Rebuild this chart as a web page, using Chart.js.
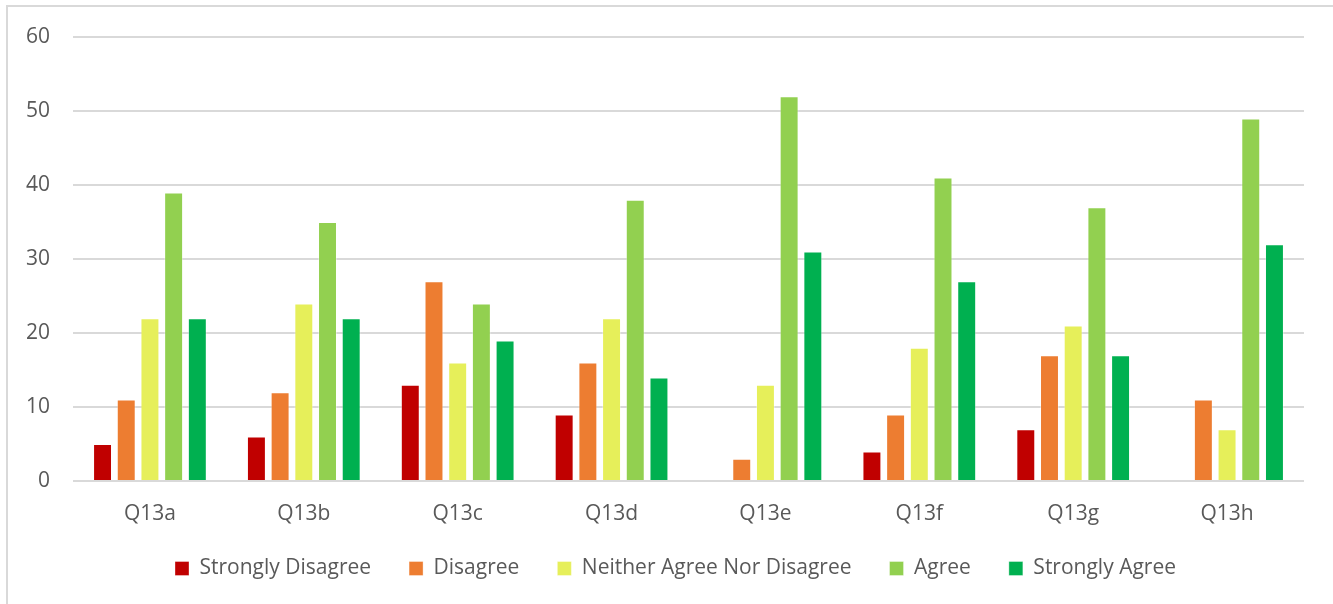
<!DOCTYPE html>
<html>
<head>
<meta charset="utf-8">
<script src="https://cdn.jsdelivr.net/npm/chart.js@4.4.0/dist/chart.umd.min.js"></script>
<style>
  html, body { margin: 0; padding: 0; background: #ffffff; }
  body { width: 1333px; height: 604px; position: relative; overflow: hidden; }
  .frame { position: absolute; left: 6px; top: 5px; width: 1400px; height: 700px;
           border-left: 2px solid #d9d9d9; border-top: 2px solid #d9d9d9; }
  #wrap { position: absolute; left: 0; top: 0; width: 1333px; height: 604px; }
</style>
</head>
<body>
<div class="frame"></div>
<div id="wrap"><canvas id="chart" width="1333" height="604"></canvas></div>
<script>
// Survey responses per question
const questions = ['Q13a', 'Q13b', 'Q13c', 'Q13d', 'Q13e', 'Q13f', 'Q13g', 'Q13h'];
const stronglyDisagree = [5, 6, 13, 9, 0, 4, 7, 0];
const disagree         = [11, 12, 27, 16, 3, 9, 17, 11];
const neither          = [22, 24, 16, 22, 13, 18, 21, 7];
const agree            = [39, 35, 24, 38, 52, 41, 37, 49];
const stronglyAgree    = [22, 22, 19, 14, 31, 27, 17, 32];
const yTicks = [0, 10, 20, 30, 40, 50, 60];

const seriesNames  = ['Strongly Disagree', 'Disagree', 'Neither Agree Nor Disagree', 'Agree', 'Strongly Agree'];
const seriesValues = [stronglyDisagree, disagree, neither, agree, stronglyAgree];
const seriesColors = ['#C00000', '#ED7D31', '#E6EF5A', '#92D050', '#00B050'];

const FONT = "'Open Sans', 'DejaVu Sans', sans-serif";
const TEXT = '#595959';

// Nudges the legend row so it sits centred under the whole frame,
// a little closer to the category labels
const legendShift = {
  id: 'legendShift',
  afterLayout(chart) {
    const lg = chart.legend;
    if (lg) {
      lg.left += 20; lg.right += 20;
      lg.top -= 11; lg.bottom -= 11;
    }
  }
};

new Chart(document.getElementById('chart'), {
  type: 'bar',
  data: {
    labels: questions,
    datasets: seriesNames.map((name, i) => ({
      label: name,
      data: seriesValues[i],
      backgroundColor: seriesColors[i],
      borderColor: 'rgba(255,255,255,0.35)',
      borderWidth: 1,
      categoryPercentage: 0.77,
      barPercentage: 0.8
    }))
  },
  plugins: [legendShift],
  options: {
    responsive: false,
    animation: false,
    devicePixelRatio: 1,
    layout: { padding: { left: 7, right: 29, top: 37, bottom: 4 } },
    plugins: {
      tooltip: { enabled: false },
      legend: {
        position: 'bottom',
        labels: {
          color: TEXT,
          font: { family: FONT, size: 21 },
          boxWidth: 14,
          boxHeight: 14,
          padding: 38
        }
      }
    },
    scales: {
      x: {
        grid: { display: false },
        border: { display: false },
        ticks: { color: TEXT, font: { family: FONT, size: 21 }, padding: 12 },
        afterFit: (s) => { s.height = 50; }
      },
      y: {
        min: 0,
        max: 60,
        afterBuildTicks: (s) => { s.ticks = yTicks.map(v => ({ value: v })); },
        grid: { color: '#d9d9d9', lineWidth: 2, drawTicks: false },
        border: { display: false },
        ticks: { color: TEXT, font: { family: FONT, size: 21 }, padding: 23 },
        afterFit: (s) => { s.width = 66; }
      }
    }
  }
});
</script>
</body>
</html>
